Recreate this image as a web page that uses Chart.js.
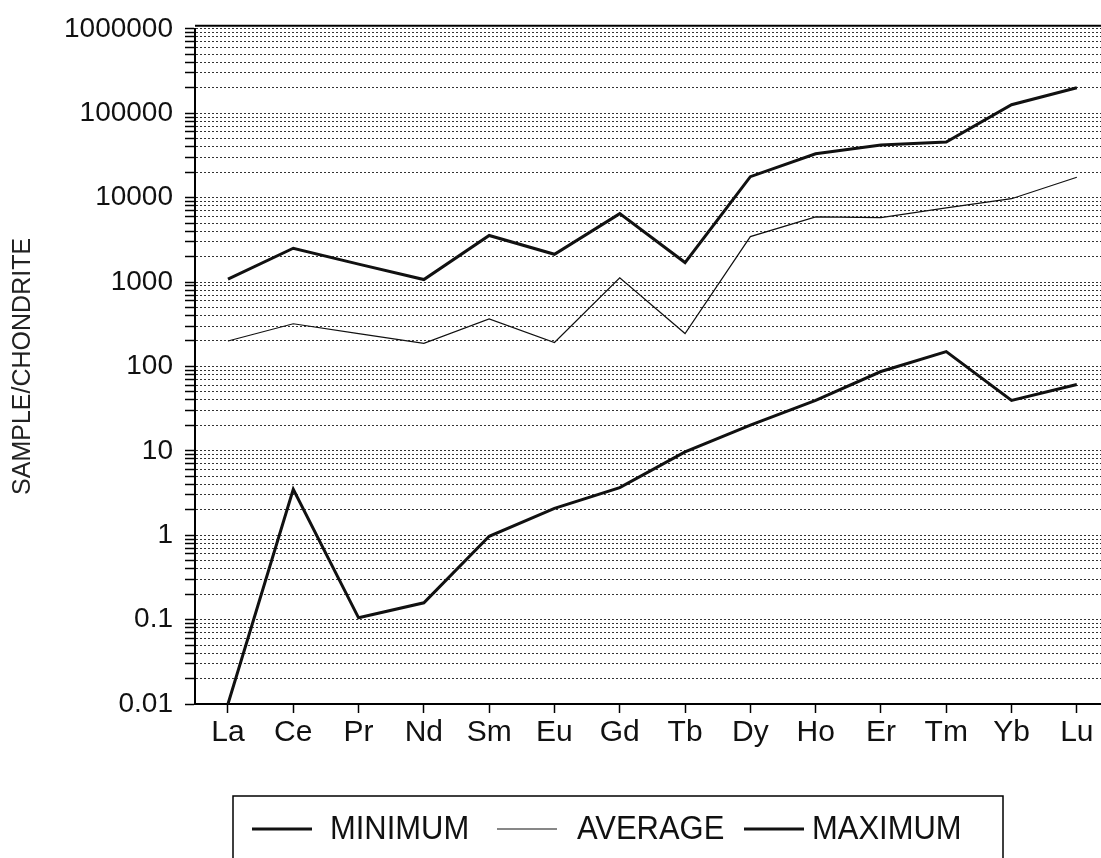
<!DOCTYPE html>
<html>
<head>
<meta charset="utf-8">
<title>Sample/Chondrite</title>
<script src="https://cdn.jsdelivr.net/npm/chart.js@4/dist/chart.umd.min.js"></script>
<style>
  html, body { margin: 0; padding: 0; background: #fff; }
  canvas { display: block; }
</style>
</head>
<body>
<canvas id="reeChart" width="1101" height="858"></canvas>
<script>
// rare earth elements along the x axis
const categories = ['La', 'Ce', 'Pr', 'Nd', 'Sm', 'Eu', 'Gd', 'Tb', 'Dy', 'Ho', 'Er', 'Tm', 'Yb', 'Lu'];

// values (sample / chondrite)
const minimumValues = [0.01, 3.5, 0.105, 0.158, 0.97, 2.08, 3.66, 9.7, 20.2, 39.6, 87, 150, 39.6, 61];
const averageValues = [200, 320, 245, 188, 365, 192, 1120, 245, 3450, 5900, 5800, 7550, 9700, 17400];
const maximumValues = [1084, 2510, 1630, 1070, 3560, 2130, 6460, 1700, 17700, 33000, 42000, 45500, 126000, 200000];

const seriesNames = ['MINIMUM', 'AVERAGE', 'MAXIMUM'];
const yTickLabels = ['0.01', '0.1', '1', '10', '100', '1000', '10000', '100000', '1000000'];

// every 1..9 step inside each decade gets a dotted grid line
const yTickValues = [];
yTickLabels.forEach((label, i) => {
    const base = Number(label);
    if (i === yTickLabels.length - 1) {
        yTickValues.push(base);
        return;
    }
    for (let k = 1; k <= 9; k++) {
        yTickValues.push(parseFloat((base * k).toPrecision(6)));
    }
});

function toPoints(values) {
    return values.map((v, i) => ({ x: i, y: v }));
}

// white background + solid frame line at the top
const frame = {
    id: 'frame',
    beforeDraw(chart) {
        const ctx = chart.ctx;
        ctx.save();
        ctx.fillStyle = '#fff';
        ctx.fillRect(0, 0, chart.width, chart.height);
        ctx.restore();
    },
    afterDraw(chart) {
        const { ctx, chartArea } = chart;
        ctx.save();
        ctx.strokeStyle = '#000';
        ctx.lineWidth = 2;
        ctx.beginPath();
        ctx.moveTo(chartArea.left, chartArea.top - 3);
        ctx.lineTo(chartArea.right, chartArea.top - 3);
        ctx.stroke();
        ctx.restore();
    }
};

// boxed legend at the bottom, cut by the page edge like the scan
const boxedLegend = {
    id: 'boxedLegend',
    afterDraw(chart) {
        const ctx = chart.ctx;
        const left = 233, right = 1003, top = 796, bottom = chart.height + 2;
        const lineX = [252, 497, 744];
        const textX = [330, 577, 812];
        const midY = 829;

        ctx.save();
        ctx.strokeStyle = '#000';
        ctx.lineWidth = 1.5;
        ctx.beginPath();
        ctx.moveTo(left, bottom);
        ctx.lineTo(left, top);
        ctx.lineTo(right, top);
        ctx.lineTo(right, bottom);
        ctx.stroke();

        chart.data.datasets.forEach((ds, i) => {
            ctx.strokeStyle = ds.borderColor;
            ctx.lineWidth = ds.borderWidth;
            ctx.beginPath();
            ctx.moveTo(lineX[i], midY);
            ctx.lineTo(lineX[i] + 60, midY);
            ctx.stroke();

            ctx.save();
            ctx.translate(textX[i], midY);
            ctx.scale(0.91, 1);
            ctx.fillStyle = '#111';
            ctx.font = '34px "Liberation Sans", Arial, sans-serif';
            ctx.textBaseline = 'middle';
            ctx.textAlign = 'left';
            ctx.fillText(ds.label, 0, 1);
            ctx.restore();
        });
        ctx.restore();
    }
};

const ctx = document.getElementById('reeChart').getContext('2d');
const reeChart = new Chart(ctx, {
    type: 'line',
    data: {
        datasets: [
            {
                label: seriesNames[0],
                data: toPoints(minimumValues),
                borderColor: '#111',
                borderWidth: 3,
                pointRadius: 0,
                tension: 0
            },
            {
                label: seriesNames[1],
                data: toPoints(averageValues),
                borderColor: '#111',
                borderWidth: 1.2,
                pointRadius: 0,
                tension: 0
            },
            {
                label: seriesNames[2],
                data: toPoints(maximumValues),
                borderColor: '#111',
                borderWidth: 3,
                pointRadius: 0,
                tension: 0
            }
        ]
    },
    options: {
        responsive: false,
        animation: false,
        layout: { padding: { top: 24, right: 0, left: 0, bottom: 0 } },
        plugins: {
            legend: { display: false },
            tooltip: { enabled: false }
        },
        scales: {
            x: {
                type: 'linear',
                min: -0.505,
                max: 13.37,
                afterFit: (scale) => { scale.height = 154; },
                afterBuildTicks: (scale) => {
                    scale.ticks = categories.map((c, i) => ({ value: i }));
                },
                ticks: {
                    autoSkip: false,
                    maxRotation: 0,
                    padding: 2,
                    color: '#111',
                    font: { family: '"Liberation Sans", Arial, sans-serif', size: 30 },
                    callback: (value) => categories[value] || ''
                },
                grid: {
                    drawOnChartArea: false,
                    drawTicks: true,
                    tickLength: 9,
                    tickColor: '#000',
                    tickWidth: 1.5
                },
                border: { display: true, color: '#000', width: 2 }
            },
            y: {
                type: 'logarithmic',
                min: 0.01,
                max: 1000000,
                afterFit: (scale) => { scale.width = 195; },
                afterBuildTicks: (scale) => {
                    scale.ticks = yTickValues.map(v => ({ value: v }));
                },
                ticks: {
                    autoSkip: false,
                    padding: 12,
                    color: '#111',
                    font: { family: '"Liberation Sans", Arial, sans-serif', size: 28 },
                    callback: (value) => {
                        const hit = yTickLabels.find(l => Number(l) === value);
                        return hit || '';
                    }
                },
                grid: {
                    color: '#333',
                    lineWidth: 1,
                    drawTicks: true,
                    tickLength: 10,
                    tickColor: '#000',
                    tickWidth: 1.5
                },
                border: { display: true, color: '#000', width: 2, dash: [2, 2] },
                title: {
                    display: true,
                    text: 'SAMPLE/CHONDRITE',
                    color: '#222',
                    padding: { top: 8, bottom: 4 },
                    font: { family: '"Liberation Sans", Arial, sans-serif', size: 25 }
                }
            }
        }
    },
    plugins: [frame, boxedLegend]
});
</script>
</body>
</html>
